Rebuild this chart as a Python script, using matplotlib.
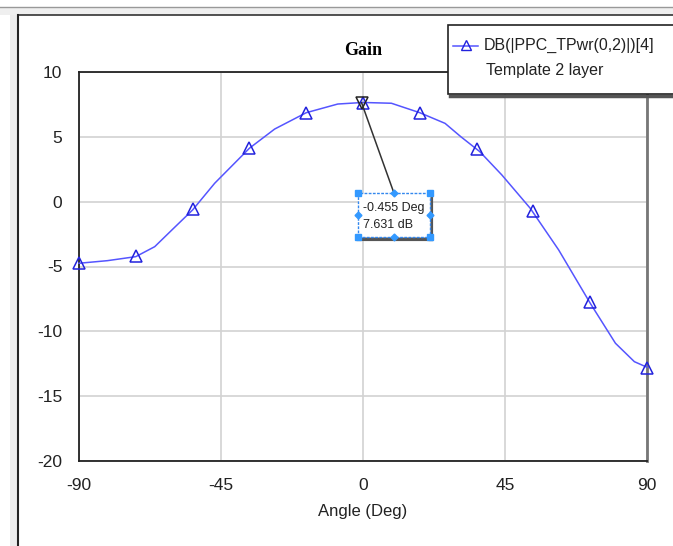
import matplotlib
matplotlib.use("Agg")
import matplotlib.pyplot as plt
from matplotlib.patches import Rectangle
from matplotlib.lines import Line2D

plt.rcParams["axes.unicode_minus"] = False

# curve
angle = [-90, -81, -72, -66, -60, -54, -47, -36, -28, -18, -8, 0,
         9, 18, 26, 31, 37, 44, 53, 62, 72, 80, 86, 90]
gain_db = [-4.75, -4.55, -4.24, -3.47, -2.05, -0.64, 1.42, 4.12, 5.6, 6.86, 7.53, 7.65,
           7.59, 6.86, 6.04, 5.01, 3.86, 2.06, -0.51, -3.72, -7.83, -10.92, -12.34, -12.77]

# triangle markers, every 18 deg
marker_angle = [-90, -72, -54, -36, -18, 0, 18, 36, 54, 72, 90]
marker_gain = [-4.75, -4.2, -0.6, 4.15, 6.85, 7.63, 6.85, 4.05, -0.75, -7.7, -12.8]

readout_angle = -0.455
readout_gain = 7.631

series_name = "DB(|PPC_TPwr(0,2)|)[4]"
series_note = "Template 2 layer"
xticks = [-90, -45, 0, 45, 90]
yticks = [-20, -15, -10, -5, 0, 5, 10]

BLUE = "#5555ff"
MBLUE = "#2222dd"
SANS = ["Liberation Sans", "DejaVu Sans"]

W, H = 673, 546
fig = plt.figure(figsize=(W / 100, H / 100), dpi=100)


def fx(px):
    return px / W


def fy(py):
    return 1 - py / H


# window frame bits
fig.patches.append(Rectangle((fx(10), 0), fx(8), fy(15), transform=fig.transFigure,
                             facecolor="#ececec", edgecolor="none", zorder=0))
fig.patches.append(Rectangle((0, fy(15)), 1, fy(7) - fy(15), transform=fig.transFigure,
                             facecolor="#efefef", edgecolor="none", zorder=0))
fig.lines.append(Line2D([0, 1], [fy(7), fy(7)], transform=fig.transFigure, color="#999999", lw=1))
fig.lines.append(Line2D([fx(18), 1], [fy(15), fy(15)], transform=fig.transFigure, color="#333333", lw=1.2))
fig.lines.append(Line2D([fx(18), fx(18)], [0, fy(15)], transform=fig.transFigure, color="#222222", lw=1.5))

ax = fig.add_axes([fx(79), fy(461), fx(647) - fx(79), fy(72) - fy(461)])
ax.set_xlim(-90, 90)
ax.set_ylim(-20, 10)
ax.set_xticks(xticks)
ax.set_yticks(yticks)
ax.grid(True, color="#d2d2d2", lw=1.2)
ax.tick_params(length=0, labelsize=12.5, pad=12, labelcolor="#222222")
for lab in ax.get_xticklabels() + ax.get_yticklabels():
    lab.set_family(SANS)
for s in ["left", "bottom", "top"]:
    ax.spines[s].set_color("#222222")
    ax.spines[s].set_linewidth(1.3)
ax.spines["right"].set_color("#777777")
ax.spines["right"].set_linewidth(2)

ax.plot(angle, gain_db, color=BLUE, lw=1.1, zorder=3, clip_on=False)
ax.plot(marker_angle, marker_gain, ls="none", marker="^", ms=9, mfc="none",
        mec=MBLUE, mew=1.1, zorder=4, clip_on=False)
ax.plot([readout_angle], [readout_gain], ls="none", marker="v", ms=8, mfc="none",
        mec="#222222", mew=1.1, zorder=5)

ax.set_xlabel("Angle (Deg)", family=SANS, fontsize=12, color="#222222", labelpad=8)
ax.set_title("Gain", family=["Liberation Serif", "DejaVu Serif"], fontweight="bold",
             fontsize=13, pad=12)

# readout box
bx0, bx1 = -1.6, 21.2
by0, by1 = -2.72, 0.67
ax.plot([readout_angle, (bx0 + bx1) / 2], [readout_gain, by1], color="#333333", lw=1.1, zorder=5)
ax.add_patch(Rectangle((bx0, by0), bx1 - bx0, by1 - by0, facecolor="white",
                       edgecolor="#3388ee", ls=(0, (2, 1)), lw=1, zorder=6))
ax.plot([bx0 + 0.4, bx1 + 0.4], [by0 - 0.15, by0 - 0.15], color="#555555", lw=3, zorder=5.5)
ax.plot([bx1 + 0.4, bx1 + 0.4], [by0 - 0.15, by1 - 0.3], color="#555555", lw=3, zorder=5.5)
mx = (bx0 + bx1) / 2
my = (by0 + by1) / 2
ax.plot([bx0, bx1, bx0, bx1], [by0, by0, by1, by1], ls="none", marker="s", ms=4,
        color="#3399ff", zorder=7)
ax.plot([mx, mx, bx0, bx1], [by0, by1, my, my], ls="none", marker="D", ms=3.5,
        color="#3399ff", zorder=7)
ax.text(bx0 + 1.6, my + 0.55, "%.3f Deg" % readout_angle, family=SANS, fontsize=9,
        va="center", ha="left", zorder=8, color="#222222")
ax.text(bx0 + 1.6, my - 0.75, "%.3f dB" % readout_gain, family=SANS, fontsize=9,
        va="center", ha="left", zorder=8, color="#222222")

# legend box
fig.patches.append(Rectangle((fx(448), fy(94)), fx(700) - fx(448), fy(25) - fy(94),
                             transform=fig.transFigure, facecolor="white",
                             edgecolor="#222222", lw=1.2, zorder=10))
fig.lines.append(Line2D([fx(450), 1], [fy(95.5), fy(95.5)], transform=fig.transFigure,
                        color="#555555", lw=2.5, zorder=9))
fig.lines.append(Line2D([fx(453), fx(478)], [fy(46), fy(46)], transform=fig.transFigure,
                        color=BLUE, lw=1.1, zorder=11))
fig.lines.append(Line2D([fx(465.5)], [fy(45)], transform=fig.transFigure, marker="^", ms=6.5,
                        mfc="none", mec=MBLUE, mew=1.0, ls="none", zorder=11))
fig.text(fx(484), fy(45), series_name, family=SANS, fontsize=11.5, va="center",
         ha="left", color="#222222", zorder=12)
fig.text(fx(486), fy(70), series_note, family=SANS, fontsize=11.5, va="center",
         ha="left", color="#222222", zorder=12)

fig.savefig("out.png", dpi=100)
